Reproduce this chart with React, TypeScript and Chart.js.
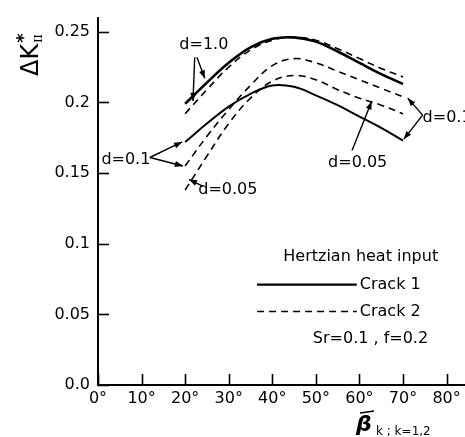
import React, { useEffect, useRef } from 'react';
import { Chart, registerables } from 'chart.js';
Chart.register(...registerables);

// ---- data ----
const angles = [20, 25, 30, 35, 40, 45, 50, 55, 60, 65, 70];
const crack1D10 = [0.199, 0.214, 0.228, 0.239, 0.245, 0.246, 0.243, 0.236, 0.228, 0.220, 0.213];
const crack2D10 = [0.192, 0.209, 0.225, 0.237, 0.244, 0.246, 0.244, 0.238, 0.231, 0.224, 0.218];
const crack2D01 = [0.155, 0.176, 0.195, 0.212, 0.226, 0.231, 0.228, 0.222, 0.216, 0.210, 0.204];
const crack2D005 = [0.138, 0.162, 0.185, 0.203, 0.215, 0.219, 0.216, 0.209, 0.203, 0.198, 0.192];
const crack1D01 = [0.172, 0.185, 0.197, 0.206, 0.212, 0.211, 0.205, 0.198, 0.190, 0.182, 0.173];

const yTickValues = [0, 0.05, 0.1, 0.15, 0.2, 0.25];
const yTickLabels = ['0.0', '0.05', '0.1', '0.15', '0.2', '0.25'];
const xTickValues = [0, 10, 20, 30, 40, 50, 60, 70, 80];
const xTickLabels = ['0°', '10°', '20°', '30°', '40°', '50°', '60°', '70°', '80°'];

// annotation labels (data units) : text, x, y, align
const labelTexts = ['d=1.0', 'd=0.1', 'd=0.05', 'd=0.05', 'd=0.1'];
const labelX = [24.3, 6.4, 29.8, 59.6, 74.5];
const labelY = [0.241, 0.159, 0.138, 0.157, 0.189];
const labelAlign = ['center', 'center', 'center', 'center', 'left'];

// arrows (data units): from -> to
const arrowFromX = [22.2, 22.7, 11.9, 11.9, 24.1, 58.3, 74.5, 74.5];
const arrowFromY = [0.232, 0.232, 0.161, 0.161, 0.1406, 0.166, 0.191, 0.191];
const arrowToX = [21.8, 24.5, 19.3, 19.5, 20.9, 62.8, 71.1, 70.2];
const arrowToY = [0.201, 0.217, 0.172, 0.155, 0.1455, 0.2007, 0.203, 0.174];

// legend texts
const legendTitle = 'Hertzian heat input';
const legendNames = ['Crack 1', 'Crack 2'];
const paramText = 'Sr=0.1 , f=0.2';

const FONT = '"DejaVu Sans", sans-serif';
const DASH = [7, 5];

function toPts(ys: number[]) {
  return angles.map((a, i) => ({ x: a, y: ys[i] }));
}

const decorPlugin = {
  id: 'decor',
  afterDraw(chart: any) {
    const ctx = chart.ctx;
    const xs = chart.scales.x;
    const ys = chart.scales.y;
    const area = chart.chartArea;
    ctx.save();
    ctx.strokeStyle = '#000';
    ctx.fillStyle = '#000';
    // inward ticks
    ctx.lineWidth = 1.6;
    yTickValues.forEach((v) => {
      const py = Math.round(ys.getPixelForValue(v)) + 0.5;
      ctx.beginPath();
      ctx.moveTo(area.left, py);
      ctx.lineTo(area.left + 11, py);
      ctx.stroke();
    });
    xTickValues.forEach((v) => {
      const px = Math.round(xs.getPixelForValue(v)) + 0.5;
      ctx.beginPath();
      ctx.moveTo(px, area.bottom);
      ctx.lineTo(px, area.bottom - 11);
      ctx.stroke();
    });

    // labels
    ctx.font = '16px ' + FONT;
    ctx.textBaseline = 'middle';
    labelTexts.forEach((t, i) => {
      ctx.textAlign = labelAlign[i];
      ctx.fillText(t, xs.getPixelForValue(labelX[i]), ys.getPixelForValue(labelY[i]));
    });

    // arrows
    ctx.lineWidth = 1.4;
    arrowFromX.forEach((fx, i) => {
      const x1 = xs.getPixelForValue(fx);
      const y1 = ys.getPixelForValue(arrowFromY[i]);
      const x2 = xs.getPixelForValue(arrowToX[i]);
      const y2 = ys.getPixelForValue(arrowToY[i]);
      ctx.beginPath();
      ctx.moveTo(x1, y1);
      ctx.lineTo(x2, y2);
      ctx.stroke();
      const ang = Math.atan2(y2 - y1, x2 - x1);
      const L = 8, W = 3;
      ctx.beginPath();
      ctx.moveTo(x2, y2);
      ctx.lineTo(x2 - L * Math.cos(ang) + W * Math.sin(ang), y2 - L * Math.sin(ang) - W * Math.cos(ang));
      ctx.lineTo(x2 - L * Math.cos(ang) - W * Math.sin(ang), y2 - L * Math.sin(ang) + W * Math.cos(ang));
      ctx.closePath();
      ctx.fill();
    });

    // legend
    ctx.font = '16px ' + FONT;
    ctx.textAlign = 'center';
    ctx.fillText(legendTitle, xs.getPixelForValue(60.3), ys.getPixelForValue(0.091));
    const lx1 = xs.getPixelForValue(36.5);
    const lx2 = xs.getPixelForValue(59.4);
    const ly = [0.071, 0.052];
    legendNames.forEach((n, i) => {
      const py = ys.getPixelForValue(ly[i]);
      ctx.lineWidth = i === 0 ? 2.2 : 1.5;
      ctx.setLineDash(i === 0 ? [] : DASH);
      ctx.beginPath();
      ctx.moveTo(lx1, py);
      ctx.lineTo(lx2, py);
      ctx.stroke();
      ctx.setLineDash([]);
      ctx.textAlign = 'left';
      ctx.fillText(n, lx2 + 3, py);
    });
    ctx.textAlign = 'left';
    ctx.fillText(paramText, xs.getPixelForValue(49.3), ys.getPixelForValue(0.033));

    // y axis title
    ctx.save();
    ctx.translate(38, 76);
    ctx.rotate(-Math.PI / 2);
    ctx.textAlign = 'left';
    ctx.textBaseline = 'alphabetic';
    ctx.font = '24px ' + FONT;
    ctx.fillText('ΔK', 0, 0);
    const w = ctx.measureText('ΔK').width;
    ctx.font = 'bold 18px ' + FONT;
    ctx.fillText('*', w + 1, -9);
    ctx.font = '11px "DejaVu Serif", serif';
    ctx.fillText('II', w + 1, 4);
    ctx.restore();

    // x axis title
    ctx.textAlign = 'left';
    ctx.textBaseline = 'alphabetic';
    ctx.font = 'italic bold 22px ' + FONT;
    ctx.fillText('β', 356, 431);
    ctx.lineWidth = 1.6;
    ctx.beginPath();
    ctx.moveTo(360, 413);
    ctx.lineTo(374, 411);
    ctx.stroke();
    ctx.font = '12px ' + FONT;
    ctx.fillText('k ; k=1,2', 376, 435);
    ctx.restore();
  },
};

export default function App() {
  const ref = useRef<HTMLCanvasElement | null>(null);
  useEffect(() => {
    document.body.style.margin = '0';
    const canvas = ref.current!;
    const mk = (label: string, ys: number[], dashed: boolean, width: number) => ({
      label,
      data: toPts(ys),
      borderColor: '#000',
      backgroundColor: '#000',
      borderWidth: width,
      borderDash: dashed ? DASH : [],
      pointRadius: 0,
      fill: false,
      tension: 0.4,
    });
    const chart = new Chart(canvas, {
      type: 'line',
      data: {
        datasets: [
          mk('Crack 1 d=1.0', crack1D10, false, 2.6),
          mk('Crack 2 d=1.0', crack2D10, true, 1.6),
          mk('Crack 2 d=0.1', crack2D01, true, 1.6),
          mk('Crack 2 d=0.05', crack2D005, true, 1.6),
          mk('Crack 1 d=0.1', crack1D01, false, 2),
        ],
      },
      options: {
        animation: false,
        responsive: false,
        devicePixelRatio: 1,
        layout: { padding: { top: 13, right: 1, left: 0, bottom: 0 } },
        plugins: { legend: { display: false }, tooltip: { enabled: false } },
        scales: {
          x: {
            type: 'linear',
            min: 0,
            max: 84,
            grid: { display: false, drawTicks: false },
            border: { display: true, color: '#000', width: 2 },
            afterBuildTicks: (s: any) => {
              s.ticks = xTickValues.map((v) => ({ value: v }));
            },
            afterFit: (s: any) => {
              s.height = 52;
            },
            ticks: {
              color: '#000',
              padding: 4,
              maxRotation: 0,
              autoSkip: false,
              font: { family: FONT, size: 16 },
              callback: (v: any) => xTickLabels[xTickValues.indexOf(Number(v))] ?? '',
            },
          },
          y: {
            type: 'linear',
            min: 0,
            max: 0.26,
            grid: { display: false, drawTicks: false },
            border: { display: true, color: '#000', width: 2 },
            afterBuildTicks: (s: any) => {
              s.ticks = yTickValues.map((v) => ({ value: v }));
            },
            afterFit: (s: any) => {
              s.width = 98;
            },
            ticks: {
              color: '#000',
              padding: 8,
              autoSkip: false,
              font: { family: FONT, size: 16 },
              callback: (v: any) => {
                const i = yTickValues.findIndex((t) => Math.abs(t - Number(v)) < 1e-9);
                return i >= 0 ? yTickLabels[i] : '';
              },
            },
          },
        },
      },
      plugins: [decorPlugin],
    });
    return () => chart.destroy();
  }, []);
  return (
    <div style={{ width: 465, height: 437, background: '#fff' }}>
      <canvas ref={ref} width={465} height={437} style={{ display: 'block' }} />
    </div>
  );
}
